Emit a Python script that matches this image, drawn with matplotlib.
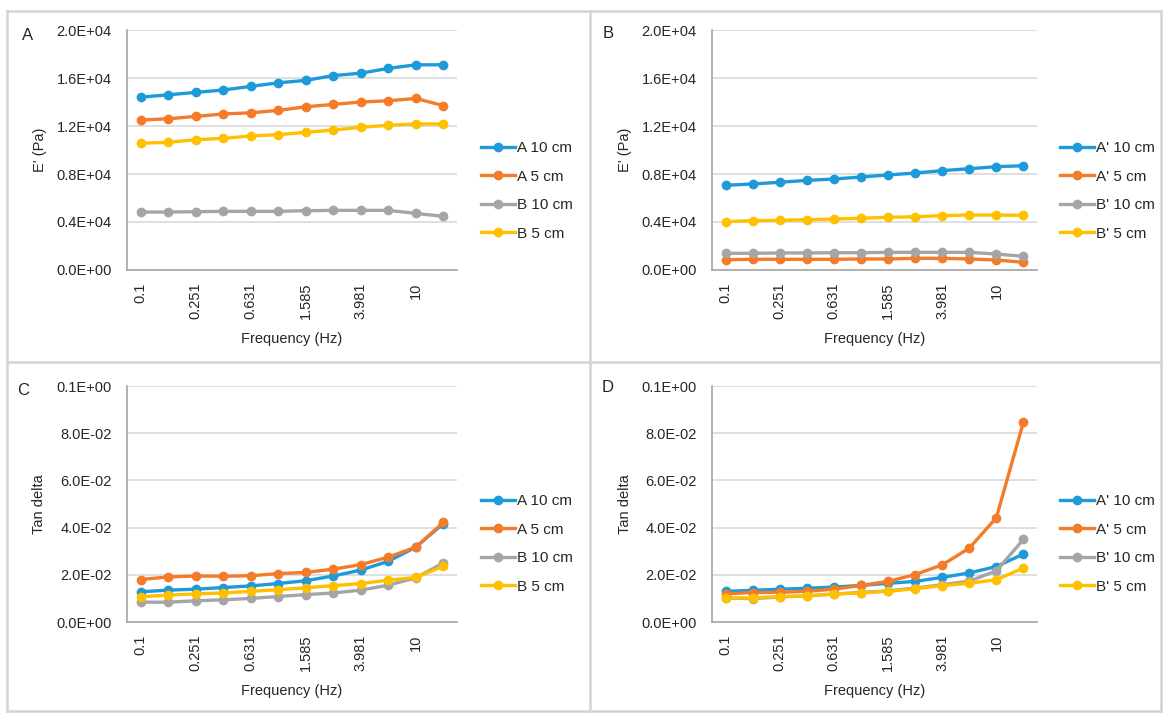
import numpy as np
import matplotlib
matplotlib.use("Agg")
import matplotlib.pyplot as plt
from matplotlib.lines import Line2D

plt.rcParams['font.family'] = ['Liberation Sans', 'DejaVu Sans']

# frequency sweep (Hz), only every other one is labelled
freq_labels = ["0.1", "0.158", "0.251", "0.398", "0.631", "1", "1.585", "2.512", "3.981", "6.31", "10", "15.85"]

# storage modulus E' (Pa)
e_A10 = [14400, 14600, 14800, 15000, 15300, 15600, 15800, 16200, 16400, 16800, 17100, 17100]
e_A5 = [12500, 12600, 12800, 13000, 13100, 13300, 13600, 13800, 14000, 14100, 14300, 13700]
e_B10 = [4830, 4830, 4860, 4890, 4890, 4890, 4940, 4970, 4970, 4970, 4720, 4470]
e_B5 = [10560, 10640, 10860, 10970, 11170, 11280, 11470, 11670, 11890, 12060, 12170, 12170]

e_Ap10 = [7060, 7170, 7310, 7470, 7580, 7750, 7920, 8080, 8280, 8440, 8610, 8690]
e_Ap5 = [860, 890, 890, 890, 890, 920, 920, 970, 970, 920, 830, 640]
e_Bp10 = [1390, 1390, 1420, 1420, 1440, 1440, 1470, 1470, 1470, 1470, 1330, 1140]
e_Bp5 = [4030, 4110, 4140, 4190, 4250, 4310, 4390, 4440, 4530, 4580, 4580, 4560]

# tan delta
t_A10 = [0.0128, 0.0135, 0.0139, 0.0146, 0.0153, 0.0163, 0.0175, 0.0195, 0.0220, 0.0257, 0.0317, 0.0417]
t_A5 = [0.0180, 0.0191, 0.0195, 0.0194, 0.0196, 0.0205, 0.0210, 0.0224, 0.0243, 0.0275, 0.0317, 0.0422]
t_B10 = [0.0084, 0.0084, 0.0090, 0.0094, 0.0100, 0.0108, 0.0116, 0.0123, 0.0135, 0.0156, 0.0187, 0.0250]
t_B5 = [0.0107, 0.0114, 0.0119, 0.0123, 0.0130, 0.0137, 0.0145, 0.0154, 0.0163, 0.0177, 0.0189, 0.0236]

t_Ap10 = [0.0130, 0.0134, 0.0139, 0.0143, 0.0148, 0.0155, 0.0164, 0.0172, 0.0189, 0.0208, 0.0235, 0.0288]
t_Ap5 = [0.0119, 0.0125, 0.0126, 0.0130, 0.0139, 0.0155, 0.0172, 0.0201, 0.0242, 0.0313, 0.0442, 0.0848]
t_Bp10 = [0.0102, 0.0099, 0.0106, 0.0111, 0.0118, 0.0125, 0.0132, 0.0144, 0.0158, 0.0173, 0.0217, 0.0350]
t_Bp5 = [0.0102, 0.0102, 0.0108, 0.0111, 0.0119, 0.0123, 0.0130, 0.0141, 0.0154, 0.0164, 0.0179, 0.0229]

e_ticks = [0, 4000, 8000, 12000, 16000, 20000]
e_ticklabels = ["0.0E+00", "0.4E+04", "0.8E+04", "1.2E+04", "1.6E+04", "2.0E+04"]
t_ticks = [0, 0.02, 0.04, 0.06, 0.08, 0.1]
t_ticklabels = ["0.0E+00", "2.0E-02", "4.0E-02", "6.0E-02", "8.0E-02", "0.1E+00"]

colors = ["#1f9ad8", "#f47b2a", "#a5a5a5", "#ffc000"]
FS = 10.5
W, H = 1164, 713

fig = plt.figure(figsize=(W / 100, H / 100), dpi=100)


def px(x0, y0, x1, y1):
    # pixel box (top-left origin) -> figure fraction rect
    return [x0 / W, 1 - y1 / H, (x1 - x0) / W, (y1 - y0) / H]


def draw_panel(rect, letter, letter_xy, series, names, ylim, ticks, ticklabels, ylabel, ylabel_x, leg_xy):
    ax = fig.add_axes(px(*rect))
    x = np.arange(len(freq_labels))
    for vals, name, c in zip(series, names, colors):
        ax.plot(x, vals, color=c, lw=2.4, marker='o', ms=6, label=name)
    ax.set_xlim(-0.5, len(freq_labels) - 0.5)
    ax.set_ylim(*ylim)
    ax.set_yticks(ticks)
    ax.set_yticklabels(ticklabels)
    ax.set_xticks(x)
    ax.set_xticklabels([l if i % 2 == 0 else "" for i, l in enumerate(freq_labels)], rotation=90)
    ax.tick_params(length=0, labelsize=FS, colors='#262626')
    ax.tick_params(axis='y', pad=11)
    ax.tick_params(axis='x', pad=9)
    ax.grid(axis='y', color='#d9d9d9', lw=1.2)
    ax.set_axisbelow(True)
    for s in ['top', 'right']:
        ax.spines[s].set_visible(False)
    for s in ['left', 'bottom']:
        ax.spines[s].set_color('#a6a6a6')
        ax.spines[s].set_linewidth(1.2)
    ax.set_xlabel("Frequency (Hz)", fontsize=FS, color='#262626', labelpad=9)
    fig.text(ylabel_x / W, 1 - (rect[1] + rect[3]) / 2 / H, ylabel, rotation=90,
             ha='center', va='center', fontsize=FS, color='#262626')
    fig.text(letter_xy[0] / W, 1 - letter_xy[1] / H, letter, ha='center', va='center',
             fontsize=12, color='#262626')
    ax.legend(loc='upper left', bbox_to_anchor=(leg_xy[0] / W, 1 - leg_xy[1] / H),
              bbox_transform=fig.transFigure, frameon=False, fontsize=11,
              handlelength=2.2, handletextpad=0.15, labelspacing=0.95,
              borderpad=0, borderaxespad=0, labelcolor='#262626')
    return ax


draw_panel((127, 30, 457, 270), "A", (28, 35), [e_A10, e_A5, e_B10, e_B5],
           ["A 10 cm", "A 5 cm", "B 10 cm", "B 5 cm"], (0, 20000), e_ticks, e_ticklabels,
           "E' (Pa)", 40, (481, 141))
draw_panel((712, 30, 1037, 270), "B", (608, 33), [e_Ap10, e_Ap5, e_Bp10, e_Bp5],
           ["A' 10 cm", "A' 5 cm", "B' 10 cm", "B' 5 cm"], (0, 20000), e_ticks, e_ticklabels,
           "E' (Pa)", 625, (1060, 141))
draw_panel((127, 386, 457, 622), "C", (23, 390), [t_A10, t_A5, t_B10, t_B5],
           ["A 10 cm", "A 5 cm", "B 10 cm", "B 5 cm"], (0, 0.1), t_ticks, t_ticklabels,
           "Tan delta", 39, (481, 494))
draw_panel((712, 386, 1037, 622), "D", (608, 388), [t_Ap10, t_Ap5, t_Bp10, t_Bp5],
           ["A' 10 cm", "A' 5 cm", "B' 10 cm", "B' 5 cm"], (0, 0.1), t_ticks, t_ticklabels,
           "Tan delta", 625, (1060, 494))

# panel frames
frame_c = '#d4d4d4'
for (x0, y0, x1, y1) in [(7, 11, 7, 711), (1161, 11, 1161, 711), (590, 11, 590, 711),
                         (7, 11, 1161, 11), (7, 711, 1161, 711), (7, 362, 1161, 362)]:
    fig.add_artist(Line2D([x0 / W, x1 / W], [1 - y0 / H, 1 - y1 / H], color=frame_c, lw=1.8))

fig.savefig("out.png", dpi=100)
